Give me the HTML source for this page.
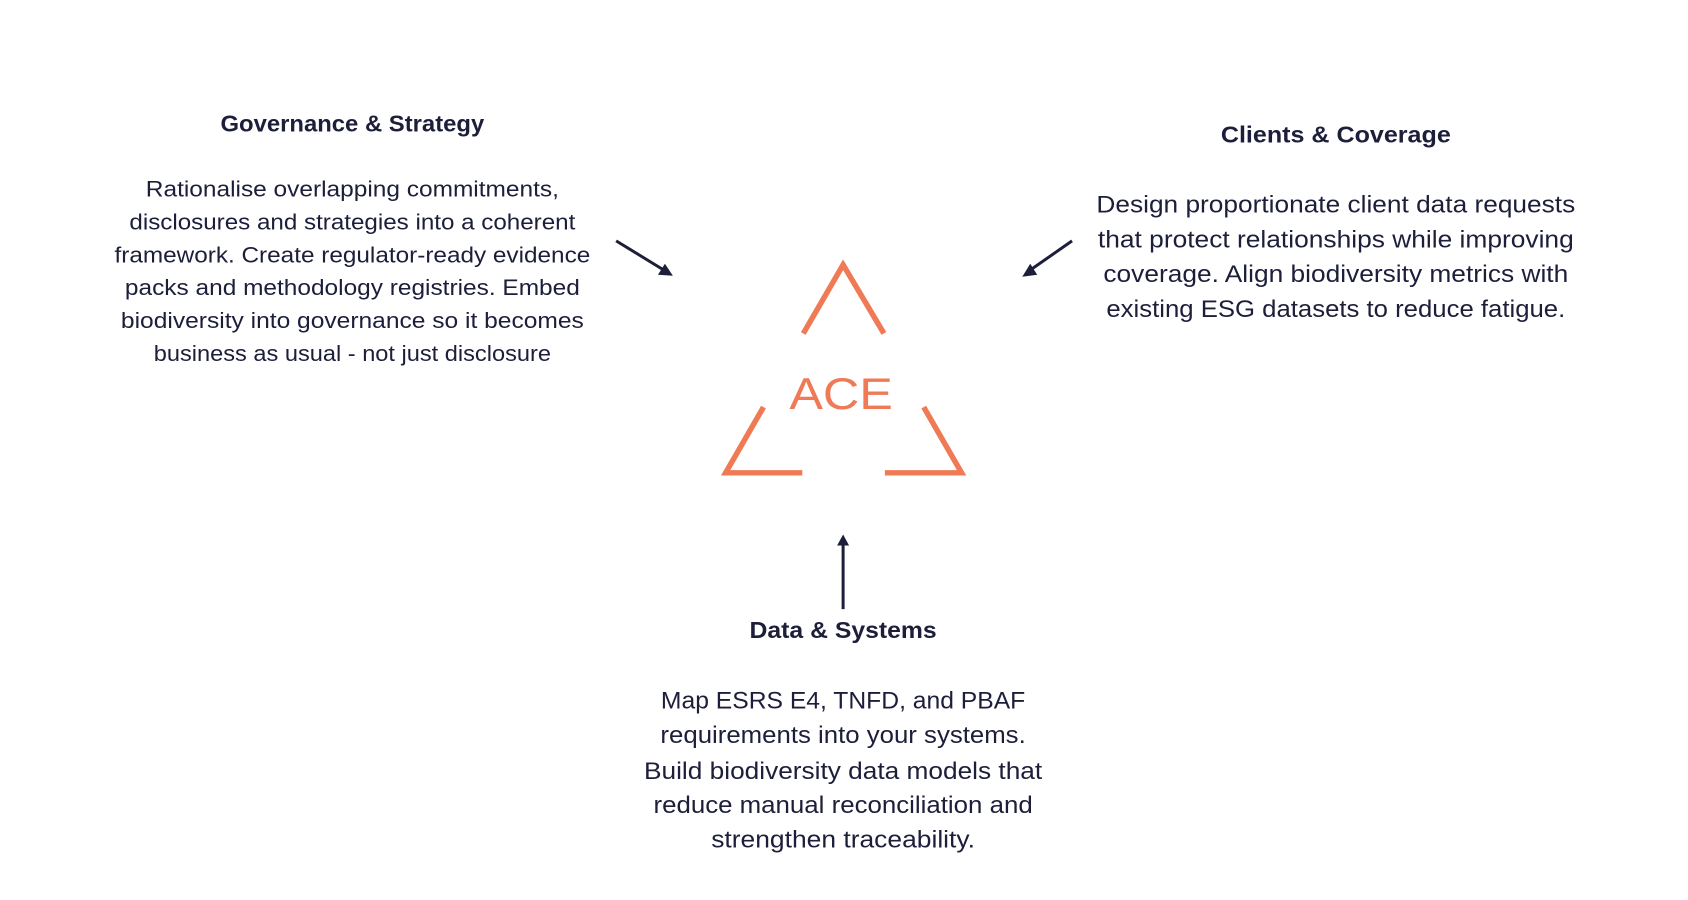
<!DOCTYPE html>
<html><head><meta charset="utf-8"><style>
html,body{margin:0;padding:0;background:#fff;}
svg{display:block;}
text{font-family:"Liberation Sans",sans-serif;fill:#1c1e3a;}
.t{font-weight:bold;font-size:23px;}
.g{font-size:22.5px;}
.c{font-size:24.5px;}
</style></head><body>
<svg width="1688" height="900" viewBox="0 0 1688 900" xmlns="http://www.w3.org/2000/svg">
<g transform="scale(0.9954)">
<g text-anchor="middle" dominant-baseline="central">
<text class="t" x="354" y="124" textLength="265" lengthAdjust="spacingAndGlyphs">Governance &amp; Strategy</text>
<text class="g" x="354" y="190" textLength="415" lengthAdjust="spacingAndGlyphs">Rationalise overlapping commitments,</text>
<text class="g" x="354" y="223" textLength="448" lengthAdjust="spacingAndGlyphs">disclosures and strategies into a coherent</text>
<text class="g" x="354" y="256" textLength="478" lengthAdjust="spacingAndGlyphs">framework. Create regulator-ready evidence</text>
<text class="g" x="354" y="289" textLength="457" lengthAdjust="spacingAndGlyphs">packs and methodology registries. Embed</text>
<text class="g" x="354" y="322" textLength="465" lengthAdjust="spacingAndGlyphs">biodiversity into governance so it becomes</text>
<text class="g" x="354" y="355" textLength="399" lengthAdjust="spacingAndGlyphs">business as usual - not just disclosure</text>

<text class="t" x="1342" y="135" textLength="231" lengthAdjust="spacingAndGlyphs">Clients &amp; Coverage</text>
<text class="c" x="1342" y="206" textLength="481" lengthAdjust="spacingAndGlyphs">Design proportionate client data requests</text>
<text class="c" x="1342" y="241" textLength="478" lengthAdjust="spacingAndGlyphs">that protect relationships while improving</text>
<text class="c" x="1342" y="276" textLength="467" lengthAdjust="spacingAndGlyphs">coverage. Align biodiversity metrics with</text>
<text class="c" x="1342" y="311" textLength="461" lengthAdjust="spacingAndGlyphs">existing ESG datasets to reduce fatigue.</text>

<text class="t" x="847" y="633" textLength="188" lengthAdjust="spacingAndGlyphs">Data &amp; Systems</text>
<text class="c" x="847" y="704" textLength="366" lengthAdjust="spacingAndGlyphs">Map ESRS E4, TNFD, and PBAF</text>
<text class="c" x="847" y="739" textLength="367" lengthAdjust="spacingAndGlyphs">requirements into your systems.</text>
<text class="c" x="847" y="775" textLength="400" lengthAdjust="spacingAndGlyphs">Build biodiversity data models that</text>
<text class="c" x="847" y="809" textLength="381" lengthAdjust="spacingAndGlyphs">reduce manual reconciliation and</text>
<text class="c" x="847" y="844" textLength="265" lengthAdjust="spacingAndGlyphs">strengthen traceability.</text>

<text x="845" y="396" style="font-size:45px;font-weight:normal;fill:#ef7a55;stroke:#fff;stroke-width:1.2px;paint-order:stroke;" textLength="104" lengthAdjust="spacingAndGlyphs">ACE</text>
</g>
<g fill="none" stroke="#ef7a55" stroke-width="5.5">
<polyline points="807,335 847,266 888,335"/>
<polyline points="767,409 729,475 806,475"/>
<polyline points="928,409 966,475 889,475"/>
</g>
<g stroke="#1c1e3a" stroke-width="3" fill="#1c1e3a">
<line x1="619" y1="242" x2="668" y2="272"/>
<polygon points="676,277 661,276 668,265" stroke="none"/>
<line x1="1077" y1="242" x2="1034" y2="272"/>
<polygon points="1027,278 1035,265 1042,276" stroke="none"/>
<line x1="847" y1="612" x2="847" y2="546"/>
<polygon points="847,537 841,548 853,548" stroke="none"/>
</g>
</g>
</svg>
</body></html>
